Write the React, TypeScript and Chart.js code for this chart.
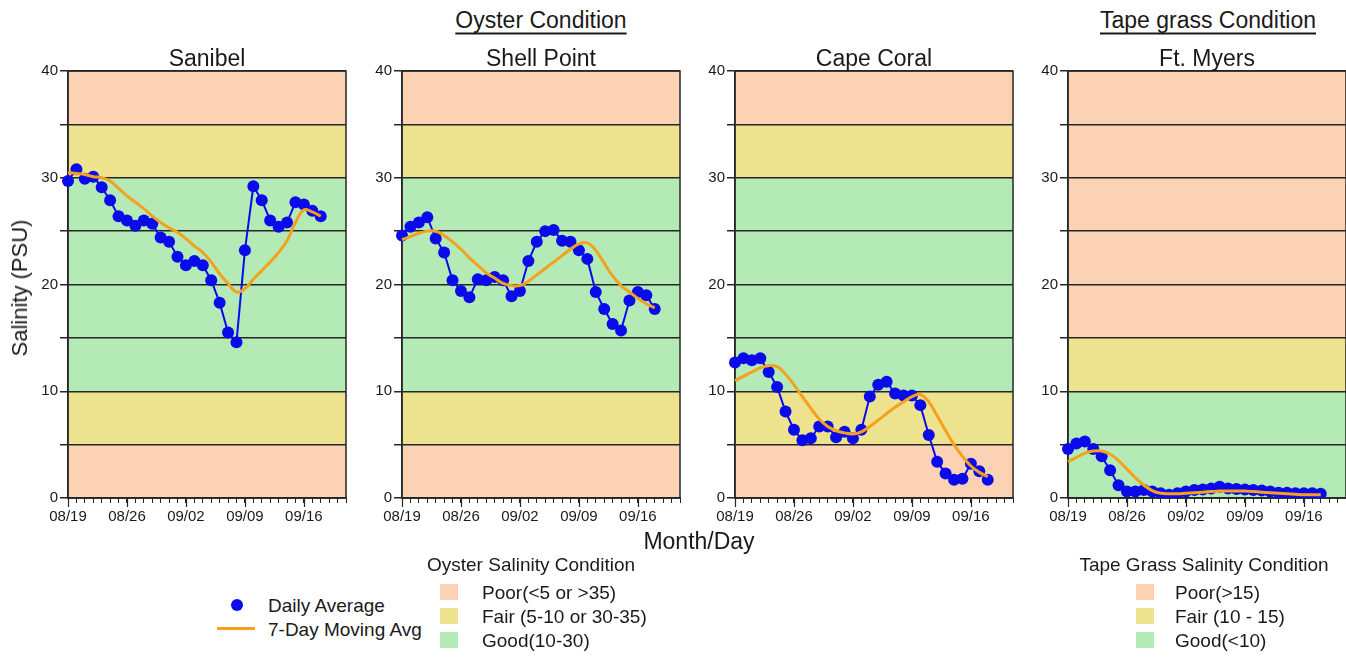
import React, { useEffect, useRef } from 'react';
import { Chart, registerables } from 'chart.js';

Chart.register(...registerables);

// ---------- data ----------
const dates = [
  '08/19', '08/20', '08/21', '08/22', '08/23', '08/24', '08/25', '08/26', '08/27', '08/28', '08/29', '08/30', '08/31',
  '09/01', '09/02', '09/03', '09/04', '09/05', '09/06', '09/07', '09/08', '09/09', '09/10', '09/11', '09/12', '09/13',
  '09/14', '09/15', '09/16', '09/17', '09/18', '09/19', '09/20', '09/21',
];
const weekTicks = ['08/19', '08/26', '09/02', '09/09', '09/16'];
const yTickLabels = [0, 10, 20, 30, 40];

const sanibelDaily = [29.7, 30.8, 29.9, 30.1, 29.1, 27.9, 26.4, 26.0, 25.5, 26.0, 25.7, 24.4, 24.0, 22.6, 21.8, 22.2,
  21.8, 20.4, 18.3, 15.5, 14.6, 23.2, 29.2, 27.9, 26.0, 25.4, 25.8, 27.7, 27.5, 26.9, 26.4];
const sanibelAvg = [30.5, 30.4, 30.3, 30.1, 30.0, 29.7, 29.0, 28.3, 27.7, 27.1, 26.4, 25.8, 25.3, 24.9, 24.3, 23.6,
  23.0, 22.1, 21.0, 20.1, 19.3, 19.6, 20.5, 21.3, 22.1, 23.0, 24.1, 25.8, 27.0, 26.8, 26.4];

const shellDaily = [24.6, 25.4, 25.8, 26.3, 24.3, 23.0, 20.4, 19.4, 18.8, 20.5, 20.4, 20.7, 20.4, 18.9, 19.4, 22.2,
  24.0, 25.0, 25.1, 24.1, 24.0, 23.2, 22.4, 19.3, 17.7, 16.3, 15.7, 18.5, 19.3, 19.0, 17.7];
const shellAvg = [24.2, 24.5, 24.8, 25.0, 25.0, 24.6, 24.0, 23.3, 22.5, 21.8, 21.1, 20.6, 20.1, 19.9, 19.9, 20.3,
  20.9, 21.5, 22.1, 22.7, 23.3, 23.8, 23.9, 23.2, 22.0, 20.8, 19.9, 19.3, 18.7, 18.2, 17.8];

const capeDaily = [12.7, 13.1, 12.9, 13.1, 11.8, 10.4, 8.1, 6.4, 5.4, 5.6, 6.7, 6.7, 5.7, 6.2, 5.6, 6.4,
  9.5, 10.6, 10.9, 9.8, 9.6, 9.6, 8.7, 5.9, 3.4, 2.3, 1.7, 1.8, 3.2, 2.5, 1.7];
const capeAvg = [11.0, 11.4, 11.8, 12.2, 12.4, 12.3, 11.6, 10.6, 9.5, 8.4, 7.4, 6.7, 6.3, 6.1, 6.0, 6.2,
  6.7, 7.3, 7.9, 8.5, 9.0, 9.5, 9.7, 9.0, 7.7, 6.3, 5.0, 3.9, 3.0, 2.4, 2.0];

const myersDaily = [4.6, 5.1, 5.3, 4.6, 3.9, 2.6, 1.2, 0.6, 0.6, 0.75, 0.6, 0.45, 0.3, 0.45, 0.6, 0.75,
  0.8, 0.9, 1.05, 0.9, 0.85, 0.8, 0.75, 0.7, 0.6, 0.5, 0.5, 0.45, 0.45, 0.45, 0.4];
const myersAvg = [3.4, 3.8, 4.2, 4.4, 4.4, 4.1, 3.5, 2.7, 1.9, 1.2, 0.7, 0.45, 0.4, 0.4, 0.45, 0.5,
  0.55, 0.6, 0.65, 0.65, 0.65, 0.65, 0.6, 0.55, 0.5, 0.45, 0.4, 0.35, 0.3, 0.3, 0.3];

const oysterPoor = [[0, 5], [35, 40]];
const oysterFair = [[5, 10], [30, 35]];
const oysterGood = [[10, 30]];
const tapePoor = [[15, 40]];
const tapeFair = [[10, 15]];
const tapeGood = [[0, 10]];

const oysterLegend = ['Poor(<5 or >35)', 'Fair (5-10 or 30-35)', 'Good(10-30)'];
const tapeLegend = ['Poor(>15)', 'Fair (10 - 15)', 'Good(<10)'];

// ---------- styles ----------
const POOR = '#FBD3B4';
const FAIR = '#EDE28D';
const GOOD = '#B4EAB6';
const BLUE = '#0A0AEB';
const ORANGE = '#F6A11E';
const GRID = '#262626';
const TEXT = '#1a1a1a';
const FONT = 'Arial, "Liberation Sans", Helvetica, sans-serif';

const PLOT_W = 278;
const PLOT_TOP = 70;
const PLOT_BOTTOM = 498;
const Y_AXIS_W = 60;
const X_AXIS_H = 42;
const PAD_TOP = 10;
const PAD_RIGHT = 6;
const CANVAS_TOP = PLOT_TOP - PAD_TOP;
const CANVAS_H = PLOT_BOTTOM - CANVAS_TOP + X_AXIS_H;
const CANVAS_W = Y_AXIS_W + PLOT_W + PAD_RIGHT;

const bandPlugin = {
  id: 'bands',
  beforeDraw(chart: any, _args: any, opts: any) {
    const { ctx, chartArea: a } = chart;
    const y = chart.scales.y;
    ctx.save();
    for (const g of opts.groups || []) {
      ctx.fillStyle = g.color;
      for (const [lo, hi] of g.ranges) {
        const y1 = y.getPixelForValue(hi);
        const y2 = y.getPixelForValue(lo);
        ctx.fillRect(a.left, y1, a.right - a.left, y2 - y1);
      }
    }
    ctx.restore();
  },
};

const framePlugin = {
  id: 'frame',
  beforeDatasetsDraw(chart: any) {
    const { ctx, chartArea: a } = chart;
    const x = chart.scales.x;
    ctx.save();
    ctx.strokeStyle = GRID;
    ctx.lineWidth = 1.5;
    ctx.strokeRect(a.left, a.top, a.right - a.left, a.bottom - a.top);
    ctx.lineWidth = 1.2;
    dates.forEach((d, i) => {
      if (weekTicks.includes(d)) {
        const px = Math.round(x.getPixelForValue(i)) + 0.5;
        ctx.beginPath();
        ctx.moveTo(px, a.bottom);
        ctx.lineTo(px, a.bottom + 9);
        ctx.stroke();
      }
    });
    ctx.restore();
  },
};

type PanelProps = {
  left: number;
  daily: number[];
  avg: number[];
  poor: number[][];
  fair: number[][];
  good: number[][];
};

function Panel({ left, daily, avg, poor, fair, good }: PanelProps) {
  const ref = useRef<HTMLCanvasElement>(null);
  useEffect(() => {
    const chart = new Chart(ref.current as HTMLCanvasElement, {
      type: 'line',
      data: {
        labels: dates,
        datasets: [
          {
            label: '7-Day Moving Avg',
            data: avg,
            borderColor: ORANGE,
            backgroundColor: ORANGE,
            borderWidth: 3,
            pointRadius: 0,
            tension: 0.4,
            fill: false,
          },
          {
            label: 'Daily Average',
            data: daily,
            borderColor: BLUE,
            backgroundColor: BLUE,
            borderWidth: 2,
            pointRadius: 6,
            pointBorderWidth: 0,
            pointBackgroundColor: BLUE,
            tension: 0,
            fill: false,
          },
        ],
      },
      options: {
        animation: false,
        responsive: false,
        maintainAspectRatio: false,
        devicePixelRatio: 1,
        layout: { padding: { top: PAD_TOP, right: PAD_RIGHT, left: 0, bottom: 0 } },
        plugins: {
          legend: { display: false },
          title: { display: false },
          tooltip: { enabled: false },
          bands: {
            groups: [
              { color: POOR, ranges: poor },
              { color: FAIR, ranges: fair },
              { color: GOOD, ranges: good },
            ],
          },
        } as any,
        scales: {
          x: {
            type: 'category',
            offset: false,
            ticks: {
              autoSkip: false,
              maxRotation: 0,
              minRotation: 0,
              padding: 5,
              color: TEXT,
              font: { family: FONT, size: 15 },
              callback: (_v: any, i: number) => (weekTicks.includes(dates[i]) ? dates[i] : ''),
            },
            grid: { drawOnChartArea: false, tickLength: 5, color: GRID, lineWidth: 1 },
            border: { color: GRID, width: 1.5 },
            afterFit: (s: any) => {
              s.height = X_AXIS_H;
            },
          },
          y: {
            min: 0,
            max: 40,
            ticks: {
              stepSize: 5,
              padding: 2,
              color: TEXT,
              font: { family: FONT, size: 15 },
              callback: (v: any) => (yTickLabels.includes(Number(v)) ? String(v) : ''),
            },
            grid: { color: GRID, lineWidth: 1.5, tickLength: 8, drawOnChartArea: true },
            border: { color: GRID, width: 1.5 },
            afterFit: (s: any) => {
              s.width = Y_AXIS_W;
            },
          },
        } as any,
      },
      plugins: [bandPlugin, framePlugin],
    });
    return () => chart.destroy();
  }, []);
  return (
    <canvas
      ref={ref}
      width={CANVAS_W}
      height={CANVAS_H}
      style={{ position: 'absolute', left: left - Y_AXIS_W, top: CANVAS_TOP, width: CANVAS_W, height: CANVAS_H }}
    />
  );
}

function Text({ x, y, size, children, style }: { x: number; y: number; size: number; children: any; style?: any }) {
  return (
    <div
      style={{
        position: 'absolute',
        left: x,
        top: y,
        transform: 'translate(-50%, -50%)',
        fontSize: size,
        whiteSpace: 'nowrap',
        lineHeight: 1,
        ...style,
      }}
    >
      {children}
    </div>
  );
}

function LeftText({ x, y, size, children }: { x: number; y: number; size: number; children: any }) {
  return (
    <div
      style={{
        position: 'absolute',
        left: x,
        top: y,
        transform: 'translateY(-50%)',
        fontSize: size,
        whiteSpace: 'nowrap',
        lineHeight: 1,
      }}
    >
      {children}
    </div>
  );
}

function Swatch({ x, y, color }: { x: number; y: number; color: string }) {
  return <div style={{ position: 'absolute', left: x, top: y - 8, width: 18, height: 16, background: color }} />;
}

const panelLefts = [68, 402, 735, 1068];
const panelTitles = ['Sanibel', 'Shell Point', 'Cape Coral', 'Ft. Myers'];
const legendRows = [592, 616, 640];
const swatchColors = [POOR, FAIR, GOOD];
const underline = { textDecoration: 'underline', textUnderlineOffset: 5, textDecorationThickness: 1.5 };

export default function App() {
  return (
    <div
      style={{
        position: 'absolute',
        left: 0,
        top: 0,
        width: 1346,
        height: 658,
        overflow: 'hidden',
        background: '#ffffff',
        fontFamily: FONT,
        color: TEXT,
      }}
    >
      <Panel left={panelLefts[0]} daily={sanibelDaily} avg={sanibelAvg} poor={oysterPoor} fair={oysterFair} good={oysterGood} />
      <Panel left={panelLefts[1]} daily={shellDaily} avg={shellAvg} poor={oysterPoor} fair={oysterFair} good={oysterGood} />
      <Panel left={panelLefts[2]} daily={capeDaily} avg={capeAvg} poor={oysterPoor} fair={oysterFair} good={oysterGood} />
      <Panel left={panelLefts[3]} daily={myersDaily} avg={myersAvg} poor={tapePoor} fair={tapeFair} good={tapeGood} />

      <Text x={541} y={20} size={23} style={underline}>
        Oyster Condition
      </Text>
      <Text x={1208} y={20} size={23} style={underline}>
        Tape grass Condition
      </Text>
      {panelTitles.map((t, i) => (
        <Text key={t} x={panelLefts[i] + PLOT_W / 2} y={58} size={23}>
          {t}
        </Text>
      ))}
      <Text x={20} y={288} size={22} style={{ transform: 'translate(-50%, -50%) rotate(-90deg)' }}>
        Salinity (PSU)
      </Text>
      <Text x={699} y={541} size={23}>
        Month/Day
      </Text>

      <Text x={531} y={564} size={19}>
        Oyster Salinity Condition
      </Text>
      {oysterLegend.map((t, i) => (
        <React.Fragment key={t}>
          <Swatch x={440} y={legendRows[i]} color={swatchColors[i]} />
          <LeftText x={482} y={legendRows[i]} size={19}>
            {t}
          </LeftText>
        </React.Fragment>
      ))}

      <div style={{ position: 'absolute', left: 231, top: 599, width: 12, height: 12, borderRadius: 6, background: BLUE }} />
      <LeftText x={268} y={605} size={19}>
        Daily Average
      </LeftText>
      <div style={{ position: 'absolute', left: 217, top: 627, width: 38, height: 3, background: ORANGE }} />
      <LeftText x={268} y={629} size={19}>
        7-Day Moving Avg
      </LeftText>

      <Text x={1204} y={564} size={19}>
        Tape Grass Salinity Condition
      </Text>
      {tapeLegend.map((t, i) => (
        <React.Fragment key={t}>
          <Swatch x={1136} y={legendRows[i]} color={swatchColors[i]} />
          <LeftText x={1175} y={legendRows[i]} size={19}>
            {t}
          </LeftText>
        </React.Fragment>
      ))}
    </div>
  );
}
